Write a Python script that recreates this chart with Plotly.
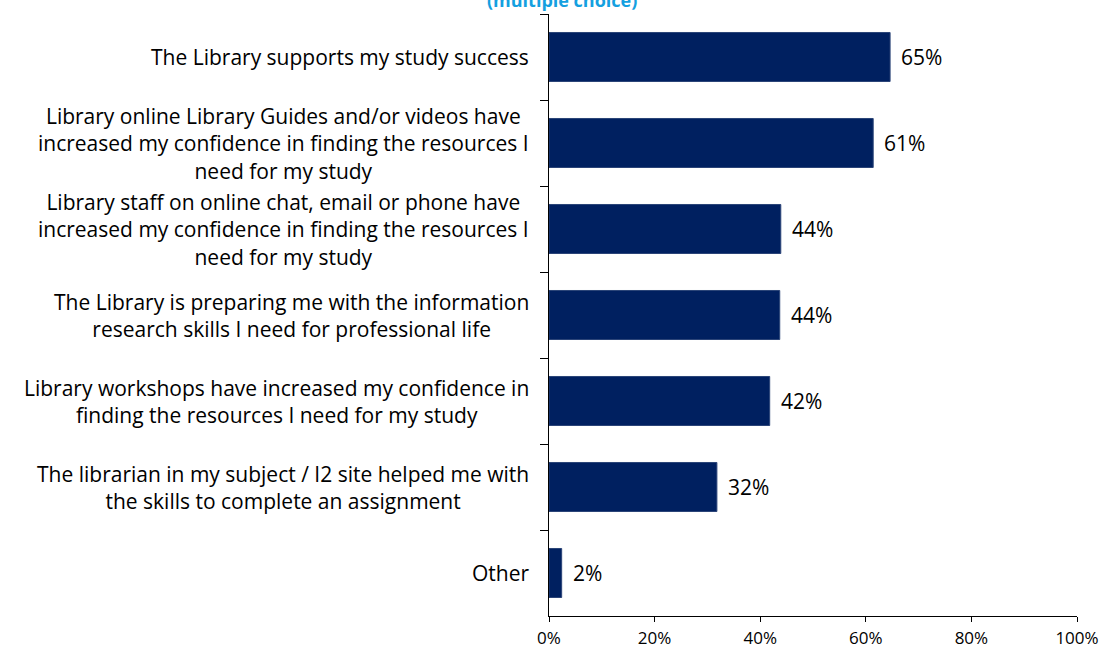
import plotly.graph_objects as go

categories = [
    "The Library supports my study success",
    "Library online Library Guides and/or videos have<br>increased my confidence in finding the resources I<br>need for my study",
    "Library staff on online chat, email or phone have<br>increased my confidence in finding the resources I<br>need for my study",
    "The Library is preparing me with the information<br>research skills I need for professional life",
    "Library workshops have increased my confidence in<br>finding the resources I need for my study",
    "The librarian in my subject / I2 site helped me with<br>the skills to complete an assignment",
    "Other",
]
values = [64.6, 61.4, 43.9, 43.7, 41.8, 31.8, 2.4]
x_ticks = [0, 20, 40, 60, 80, 100]
x_tick_labels = ["0%", "20%", "40%", "60%", "80%", "100%"]

FONT = "Open Sans"
NAVY = "#002060"

fig = go.Figure(
    go.Bar(
        x=values,
        y=categories,
        orientation="h",
        width=0.57,
        marker=dict(color=NAVY, line=dict(color="#2b4478", width=1)),
        hoverinfo="skip",
    )
)

annotations = []
# category labels, centred line by line, right-aligned against the axis
for cat in categories:
    annotations.append(dict(
        x=0, xref="paper", y=cat, yref="y",
        text=cat, showarrow=False, xanchor="right", yanchor="middle",
        align="center", xshift=-18,
        font=dict(family=FONT, size=21, color="#000000"),
    ))
# value labels just past the end of each bar
for cat, v in zip(categories, values):
    annotations.append(dict(
        x=v, xref="x", y=cat, yref="y",
        text=f"{v:.0f}%", showarrow=False, xanchor="left", yanchor="middle",
        xshift=9,
        font=dict(family=FONT, size=21, color="#000000"),
    ))
# subtitle, partly above the page edge
annotations.append(dict(
    x=(562 - 549) / 528, xref="paper", y=1.0, yref="paper",
    text="<b>(multiple choice)</b>", showarrow=False,
    xanchor="center", yanchor="bottom", yshift=0,
    font=dict(family=FONT, size=18, color="#14A0E0"),
))

fig.update_layout(
    width=1104, height=651,
    margin=dict(l=549, r=27, t=14, b=35, autoexpand=False),
    paper_bgcolor="white", plot_bgcolor="white",
    showlegend=False,
    annotations=annotations,
)
fig.update_xaxes(
    range=[0, 100], tickvals=x_ticks, ticktext=x_tick_labels,
    showgrid=False, zeroline=False, automargin=False,
    showline=True, linecolor="#000000", linewidth=1,
    ticks="outside", ticklen=5, tickcolor="#000000",
    ticklabelstandoff=2,
    tickfont=dict(family=FONT, size=17, color="#000000"),
    fixedrange=True,
)
fig.update_yaxes(
    autorange="reversed", showticklabels=False, automargin=False,
    showgrid=False, zeroline=False,
    showline=True, linecolor="#000000", linewidth=1,
    ticks="outside", ticklen=8, tickcolor="#000000", tickson="boundaries",
    fixedrange=True,
)

fig.write_html("out.html")
